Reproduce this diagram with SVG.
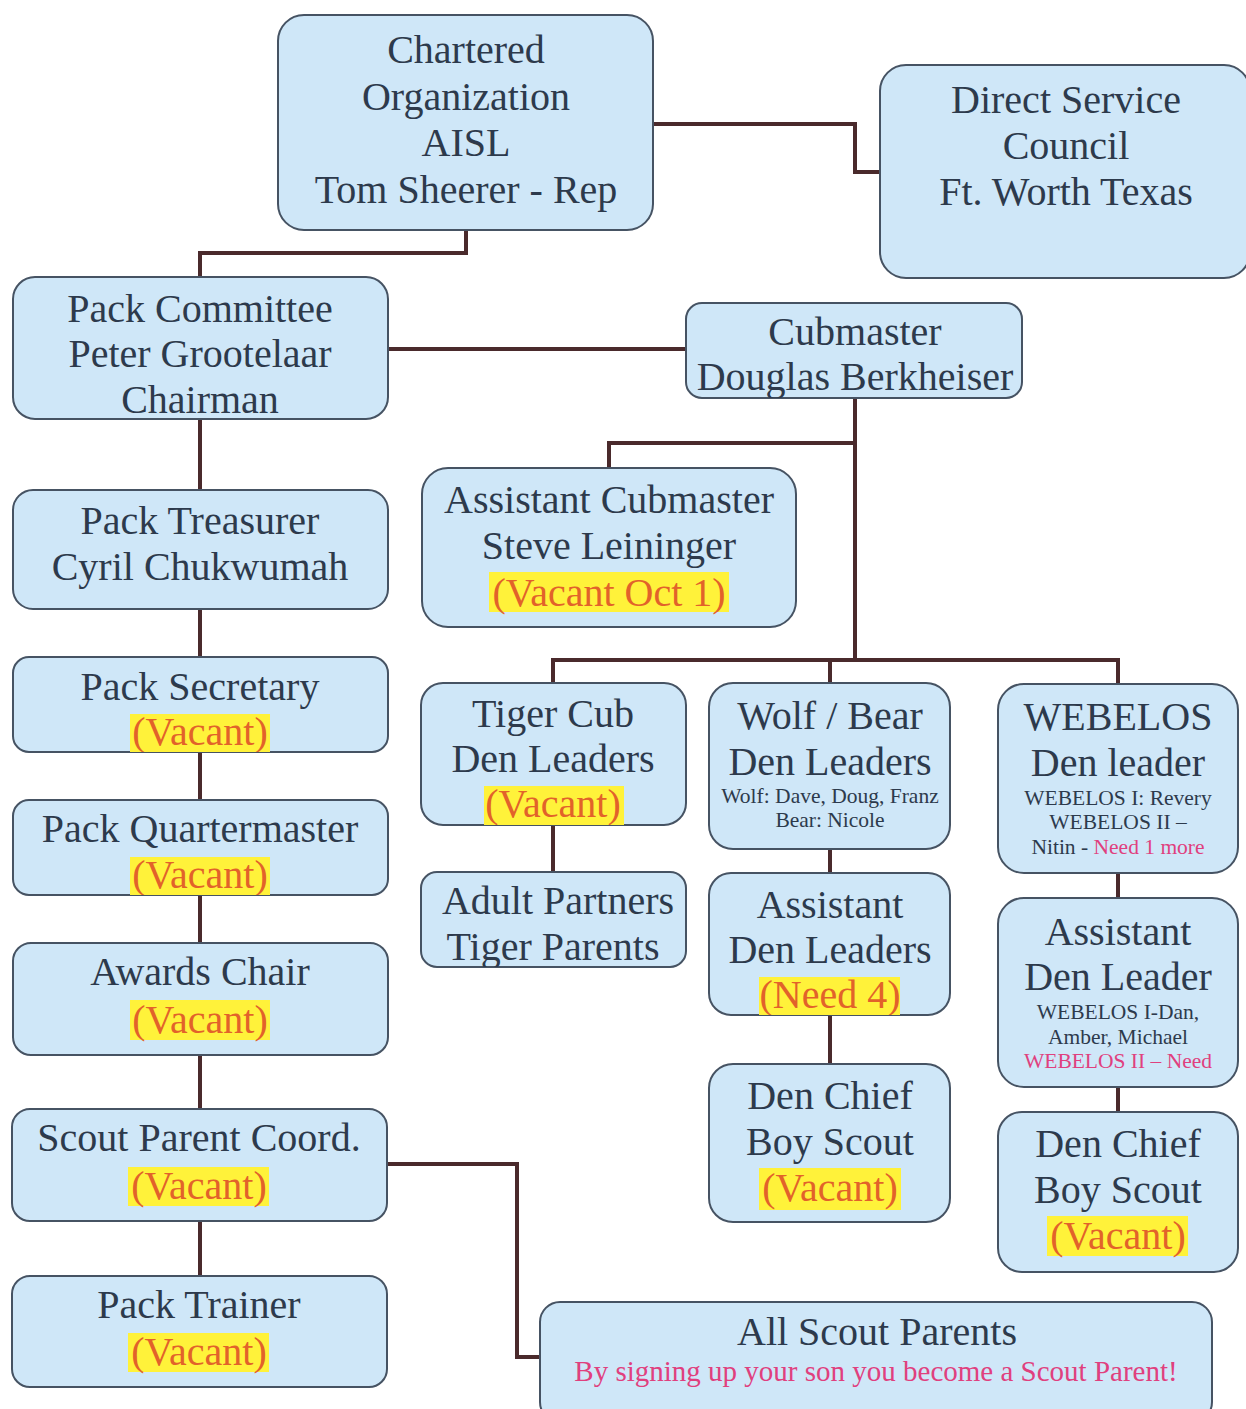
<svg xmlns="http://www.w3.org/2000/svg" width="1246" height="1409" viewBox="0 0 1246 1409">
<style>
.box{fill:#cfe7f8;stroke:#465363;stroke-width:2}
.t{font-family:"Liberation Serif","Times New Roman",serif;font-size:40px;fill:#2d3a4c;text-anchor:middle}
.s{font-family:"Liberation Serif","Times New Roman",serif;font-size:21.5px;fill:#2d3a4c;text-anchor:middle}
.v{fill:#e2622a}
.p{fill:#e0407e}
.hl{fill:#fff23a}
.c{fill:none;stroke:#4a2a2c;stroke-width:4}
</style>
<defs>
<clipPath id="ccub"><rect x="686" y="303" width="336" height="95" rx="16"/></clipPath>
<clipPath id="ccom"><rect x="13" y="277" width="375" height="142" rx="22"/></clipPath>
<clipPath id="csec"><rect x="13" y="657" width="375" height="95" rx="16"/></clipPath>
<clipPath id="cqm"><rect x="13" y="800" width="375" height="95" rx="16"/></clipPath>
<clipPath id="ctig"><rect x="421" y="683" width="265" height="142" rx="22"/></clipPath>
<clipPath id="cadl"><rect x="709" y="873" width="241" height="142" rx="22"/></clipPath>
<clipPath id="cap"><rect x="421" y="872" width="265" height="95" rx="16"/></clipPath>
</defs>
<rect width="1246" height="1409" fill="#ffffff"/>
<g id="connectors">
<polyline class="c" points="653,124 855,124 855,172 880,172"/>
<polyline class="c" points="466,230 466,253 200,253 200,277"/>
<line class="c" x1="388" y1="349" x2="686" y2="349"/>
<line class="c" x1="200" y1="419" x2="200" y2="1276"/>
<line class="c" x1="855" y1="398" x2="855" y2="660"/>
<polyline class="c" points="855,443 609,443 609,468"/>
<polyline class="c" points="553,683 553,660 1118,660 1118,684"/>
<line class="c" x1="830" y1="660" x2="830" y2="683"/>
<line class="c" x1="553" y1="825" x2="553" y2="872"/>
<line class="c" x1="830" y1="849" x2="830" y2="1064"/>
<line class="c" x1="1118" y1="873" x2="1118" y2="1112"/>
<polyline class="c" points="387,1164 517,1164 517,1357 540,1357"/>
</g>
<g id="chartered">
<rect class="box" x="278" y="15" width="375" height="215" rx="26"/>
<text class="t" x="466" y="63">Chartered</text>
<text class="t" x="466" y="110">Organization</text>
<text class="t" x="466" y="156">AISL</text>
<text class="t" x="466" y="203">Tom Sheerer - Rep</text>
</g>
<g id="council">
<rect class="box" x="880" y="65" width="370" height="213" rx="26"/>
<text class="t" x="1066" y="113">Direct Service</text>
<text class="t" x="1066" y="159">Council</text>
<text class="t" x="1066" y="205">Ft. Worth Texas</text>
</g>
<g id="committee">
<rect class="box" x="13" y="277" width="375" height="142" rx="22"/>
<g clip-path="url(#ccom)">
<text class="t" x="200" y="322">Pack Committee</text>
<text class="t" x="200" y="367">Peter Grootelaar</text>
<text class="t" x="200" y="413">Chairman</text>
</g>
</g>
<g id="cubmaster">
<rect class="box" x="686" y="303" width="336" height="95" rx="16"/>
<g clip-path="url(#ccub)">
<text class="t" x="855" y="345">Cubmaster</text>
<text class="t" x="855" y="390">Douglas Berkheiser</text>
</g>
</g>
<g id="treasurer">
<rect class="box" x="13" y="490" width="375" height="119" rx="20"/>
<text class="t" x="200" y="534">Pack Treasurer</text>
<text class="t" x="200" y="580">Cyril Chukwumah</text>
</g>
<g id="asst-cubmaster">
<rect class="box" x="422" y="468" width="374" height="159" rx="26"/>
<text class="t" x="609" y="513">Assistant Cubmaster</text>
<text class="t" x="609" y="559">Steve Leininger</text>
<rect class="hl" x="489" y="572" width="240" height="40"/>
<text class="t v" x="609" y="606">(Vacant Oct 1)</text>
</g>
<g id="secretary">
<rect class="box" x="13" y="657" width="375" height="95" rx="16"/>
<g clip-path="url(#csec)">
<text class="t" x="200" y="700">Pack Secretary</text>
<rect class="hl" x="130" y="714" width="140" height="38"/>
<text class="t v" x="200" y="745">(Vacant)</text>
</g>
</g>
<g id="tiger">
<rect class="box" x="421" y="683" width="265" height="142" rx="22"/>
<g clip-path="url(#ctig)">
<text class="t" x="553" y="727">Tiger Cub</text>
<text class="t" x="553" y="772">Den Leaders</text>
<rect class="hl" x="484" y="786" width="140" height="39"/>
<text class="t v" x="553" y="817">(Vacant)</text>
</g>
</g>
<g id="wolf-bear">
<rect class="box" x="709" y="683" width="241" height="166" rx="24"/>
<text class="t" x="830" y="729">Wolf / Bear</text>
<text class="t" x="830" y="775">Den Leaders</text>
<text class="s" x="830" y="803">Wolf: Dave, Doug, Franz</text>
<text class="s" x="830" y="827">Bear: Nicole</text>
</g>
<g id="webelos">
<rect class="box" x="998" y="684" width="240" height="189" rx="26"/>
<text class="t" x="1118" y="730">WEBELOS</text>
<text class="t" x="1118" y="776">Den leader</text>
<text class="s" x="1118" y="805">WEBELOS I: Revery</text>
<text class="s" x="1118" y="829">WEBELOS II –</text>
<text class="s" x="1118" y="854">Nitin - <tspan class="p">Need 1 more</tspan></text>
</g>
<g id="quartermaster">
<rect class="box" x="13" y="800" width="375" height="95" rx="16"/>
<g clip-path="url(#cqm)">
<text class="t" x="200" y="842">Pack Quartermaster</text>
<rect class="hl" x="130" y="857" width="140" height="38"/>
<text class="t v" x="200" y="888">(Vacant)</text>
</g>
</g>
<g id="adult-partners">
<rect class="box" x="421" y="872" width="265" height="95" rx="16"/>
<g clip-path="url(#cap)">
<text class="t" x="558" y="914">Adult Partners</text>
<text class="t" x="553" y="960">Tiger Parents</text>
</g>
</g>
<g id="asst-den-leaders">
<rect class="box" x="709" y="873" width="241" height="142" rx="22"/>
<g clip-path="url(#cadl)">
<text class="t" x="830" y="918">Assistant</text>
<text class="t" x="830" y="963">Den Leaders</text>
<rect class="hl" x="759" y="977" width="141" height="38"/>
<text class="t v" x="830" y="1008">(Need 4)</text>
</g>
</g>
<g id="asst-den-leader-webelos">
<rect class="box" x="998" y="898" width="240" height="189" rx="26"/>
<text class="t" x="1118" y="945">Assistant</text>
<text class="t" x="1118" y="990">Den Leader</text>
<text class="s" x="1118" y="1019">WEBELOS I-Dan,</text>
<text class="s" x="1118" y="1044">Amber, Michael</text>
<text class="s p" x="1118" y="1068">WEBELOS II – Need</text>
</g>
<g id="awards">
<rect class="box" x="13" y="943" width="375" height="112" rx="18"/>
<text class="t" x="200" y="985">Awards Chair</text>
<rect class="hl" x="130" y="1000" width="140" height="40"/>
<text class="t v" x="200" y="1033">(Vacant)</text>
</g>
<g id="den-chief-wolf">
<rect class="box" x="709" y="1064" width="241" height="158" rx="24"/>
<text class="t" x="830" y="1109">Den Chief</text>
<text class="t" x="830" y="1155">Boy Scout</text>
<rect class="hl" x="759" y="1168" width="142" height="42"/>
<text class="t v" x="830" y="1201">(Vacant)</text>
</g>
<g id="den-chief-webelos">
<rect class="box" x="998" y="1112" width="240" height="160" rx="24"/>
<text class="t" x="1118" y="1157">Den Chief</text>
<text class="t" x="1118" y="1203">Boy Scout</text>
<rect class="hl" x="1047" y="1216" width="141" height="40"/>
<text class="t v" x="1118" y="1249">(Vacant)</text>
</g>
<g id="scout-parent-coord">
<rect class="box" x="12" y="1109" width="375" height="112" rx="18"/>
<text class="t" x="199" y="1151">Scout Parent Coord.</text>
<rect class="hl" x="128" y="1167" width="141" height="39"/>
<text class="t v" x="199" y="1199">(Vacant)</text>
</g>
<g id="trainer">
<rect class="box" x="12" y="1276" width="375" height="111" rx="18"/>
<text class="t" x="199" y="1318">Pack Trainer</text>
<rect class="hl" x="128" y="1333" width="141" height="39"/>
<text class="t v" x="199" y="1365">(Vacant)</text>
</g>
<g id="all-parents">
<rect class="box" x="540" y="1302" width="672" height="120" rx="20"/>
<text class="t" x="877" y="1345">All Scout Parents</text>
<text class="t p" x="876" y="1381" style="font-size:29px">By signing up your son you become a Scout Parent!</text>
</g>
</svg>
